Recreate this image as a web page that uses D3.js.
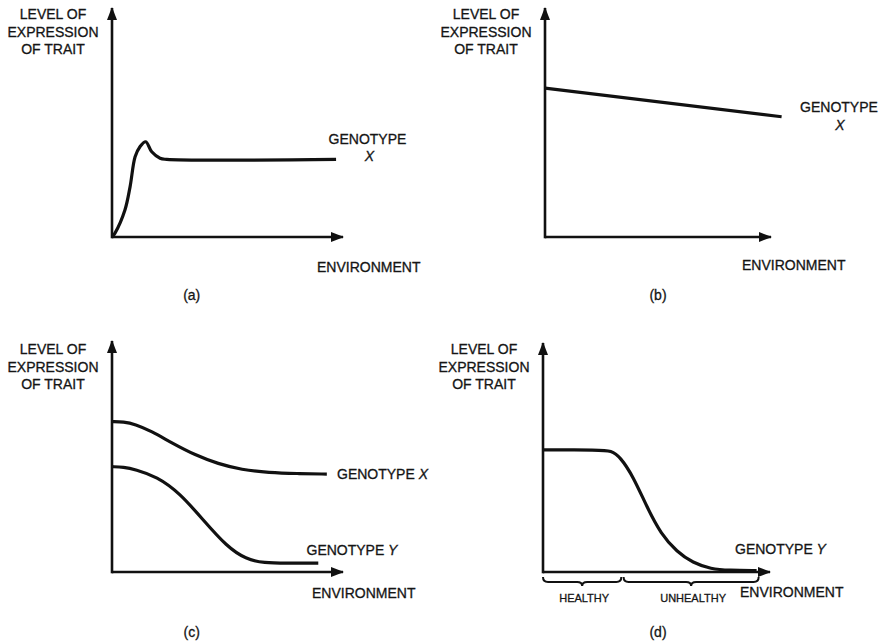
<!DOCTYPE html>
<html>
<head>
<meta charset="utf-8">
<script src="https://cdn.jsdelivr.net/npm/d3@7"></script>
<style>
  html, body { margin: 0; padding: 0; background: #fff; }
  svg text { font-family: "Liberation Sans", Arial, Helvetica, sans-serif; fill: #151515; stroke: #151515; stroke-width: 0.3px; }
</style>
</head>
<body>
<svg id="chart" width="890" height="641"></svg>
<script>
// Reaction-norm sketches: trait expression (0-100) vs environment (0-100)
const yLabelLines = ["LEVEL OF", "EXPRESSION", "OF TRAIT"];
const xLabel = "ENVIRONMENT";
const captions = ["(a)", "(b)", "(c)", "(d)"];

// (a) genotype X: fast rise, small overshoot, then a plateau
const curveA = [[0,0],[1.3,1.7],[5.6,11.8],[7.8,21.8],[10,35],[12.1,39.4],[14.6,41.6],[17.2,37.2],[20.8,34.4],[23.7,33.9],[97,33.9]];
// (b) genotype X: slow linear decline
const curveB = [[0,65],[104.7,52.5]];
// (c) genotypes X and Y: both decline, Y more steeply
const curveCX = [[0,65.1],[5,65],[10,64],[17,61],[26,55.8],[36,50.6],[46,46.8],[56,44.3],[68,43],[80,42.6],[93,42.4]];
const curveCY = [[0,45.6],[5,45.4],[10,44.4],[19.4,41.3],[29.4,34.1],[39.5,22.5],[49.7,11],[58,5.5],[66,3.9],[75,3.8],[89.3,3.8]];
// (d) genotype Y: flat in the healthy range, falls to zero in the unhealthy one
const curveD = [[0,53.3],[25,53.3],[30,53],[34,50.3],[39.8,41.6],[45.7,28.5],[52,16.5],[59,8.8],[66,4],[74,1.3],[82,0.7],[94.1,0.6]];
const braceD = [{from: 0, to: 34.5, label: "HEALTHY"}, {from: 35.5, to: 95, label: "UNHEALTHY"}];

const svg = d3.select("#chart");
const ink = "#111";

svg.append("defs").append("marker")
  .attr("id", "arrow")
  .attr("viewBox", "0 0 13 10")
  .attr("refX", 12).attr("refY", 5)
  .attr("markerUnits", "userSpaceOnUse")
  .attr("markerWidth", 14).attr("markerHeight", 10)
  .attr("orient", "auto")
  .append("path").attr("d", "M0,0 L13,5 L0,10 Z").attr("fill", ink);

// Panel frames: origin and axis end points in page pixels
const panels = [
  {ox: 112, oy: 237, xEnd: 343, yTop: 8,   labelCx: 53,  labelY: 19,  cap: [191.7, 300]},
  {ox: 545, oy: 237, xEnd: 771, yTop: 8,   labelCx: 486, labelY: 19,  cap: [658, 300]},
  {ox: 112, oy: 572, xEnd: 343, yTop: 341, labelCx: 53,  labelY: 354, cap: [191.7, 637]},
  {ox: 543, oy: 572, xEnd: 770, yTop: 343, labelCx: 484, labelY: 354, cap: [658, 637]}
];

panels.forEach((p, i) => {
  p.x = d3.scaleLinear().domain([0, 100]).range([p.ox, p.xEnd]);
  p.y = d3.scaleLinear().domain([0, 100]).range([p.oy, p.yTop]);
  const g = svg.append("g");
  p.g = g;
  // axes with arrowheads
  g.append("line").attr("x1", p.x(0)).attr("y1", p.y(0)).attr("x2", p.x(100)).attr("y2", p.y(0))
    .attr("stroke", ink).attr("stroke-width", 2.6).attr("marker-end", "url(#arrow)");
  g.append("line").attr("x1", p.x(0)).attr("y1", p.y(0) + 1.3).attr("x2", p.x(0)).attr("y2", p.y(100))
    .attr("stroke", ink).attr("stroke-width", 2.6).attr("marker-end", "url(#arrow)");
  // y-axis title
  const t = g.append("text").attr("text-anchor", "middle").attr("font-size", 14);
  yLabelLines.forEach((s, k) => t.append("tspan").attr("x", p.labelCx).attr("y", p.labelY + k * 17.5).text(s));
  // caption
  g.append("text").attr("x", p.cap[0]).attr("y", p.cap[1]).attr("text-anchor", "middle")
    .attr("font-size", 14).text(captions[i]);
});

function drawCurve(p, data, curve) {
  const line = d3.line().x(d => p.x(d[0])).y(d => p.y(d[1])).curve(curve);
  p.g.append("path").attr("d", line(data)).attr("fill", "none")
    .attr("stroke", ink).attr("stroke-width", 3.2).attr("stroke-linecap", "butt").attr("stroke-linejoin", "round");
}

function genotype(g, x, y, name, letter, anchor, size) {
  const t = g.append("text").attr("x", x).attr("y", y).attr("text-anchor", anchor || "start").attr("font-size", size || 14);
  t.append("tspan").text(name);
  if (letter) t.append("tspan").attr("font-style", "italic").text(" " + letter);
  return t;
}

const [pa, pb, pc, pd] = panels;

// (a)
drawCurve(pa, curveA, d3.curveCatmullRom.alpha(0.5));
genotype(pa.g, 367.5, 143.5, "GENOTYPE", null, "middle");
pa.g.append("text").attr("x", 369.5).attr("y", 160.5).attr("text-anchor", "middle").attr("font-size", 14)
  .attr("font-style", "italic").text("X");
pa.g.append("text").attr("x", 317).attr("y", 272).attr("font-size", 14).text(xLabel);

// (b)
drawCurve(pb, curveB, d3.curveLinear);
genotype(pb.g, 839, 111.5, "GENOTYPE", null, "middle");
pb.g.append("text").attr("x", 840).attr("y", 129.5).attr("text-anchor", "middle").attr("font-size", 14)
  .attr("font-style", "italic").text("X");
pb.g.append("text").attr("x", 742).attr("y", 270).attr("font-size", 14).text(xLabel);

// (c)
drawCurve(pc, curveCX, d3.curveBasis);
drawCurve(pc, curveCY, d3.curveBasis);
genotype(pc.g, 337, 479, "GENOTYPE", "X");
genotype(pc.g, 306.5, 555, "GENOTYPE", "Y");
pc.g.append("text").attr("x", 312).attr("y", 598).attr("font-size", 14).text(xLabel);

// (d)
drawCurve(pd, curveD, d3.curveBasis);
genotype(pd.g, 735, 553.5, "GENOTYPE", "Y");
pd.g.append("text").attr("x", 740).attr("y", 597).attr("font-size", 14).text(xLabel);

// underbraces marking healthy / unhealthy ranges
function bracePath(x1, x2, y, d) {
  const m = (x1 + x2) / 2, r = 5, h = y + d * 0.55;
  return `M${x1},${y} Q${x1},${h} ${x1 + r},${h} L${m - r},${h} Q${m},${h} ${m},${y + d}` +
         ` Q${m},${h} ${m + r},${h} L${x2 - r},${h} Q${x2},${h} ${x2},${y}`;
}
braceD.forEach(b => {
  const x1 = pd.x(b.from), x2 = pd.x(b.to);
  pd.g.append("path").attr("d", bracePath(x1, x2, 577, 9)).attr("fill", "none")
    .attr("stroke", ink).attr("stroke-width", 2);
  pd.g.append("text").attr("x", (x1 + x2) / 2 + 2).attr("y", 602).attr("text-anchor", "middle")
    .attr("font-size", 11).text(b.label);
});
</script>
</body>
</html>
